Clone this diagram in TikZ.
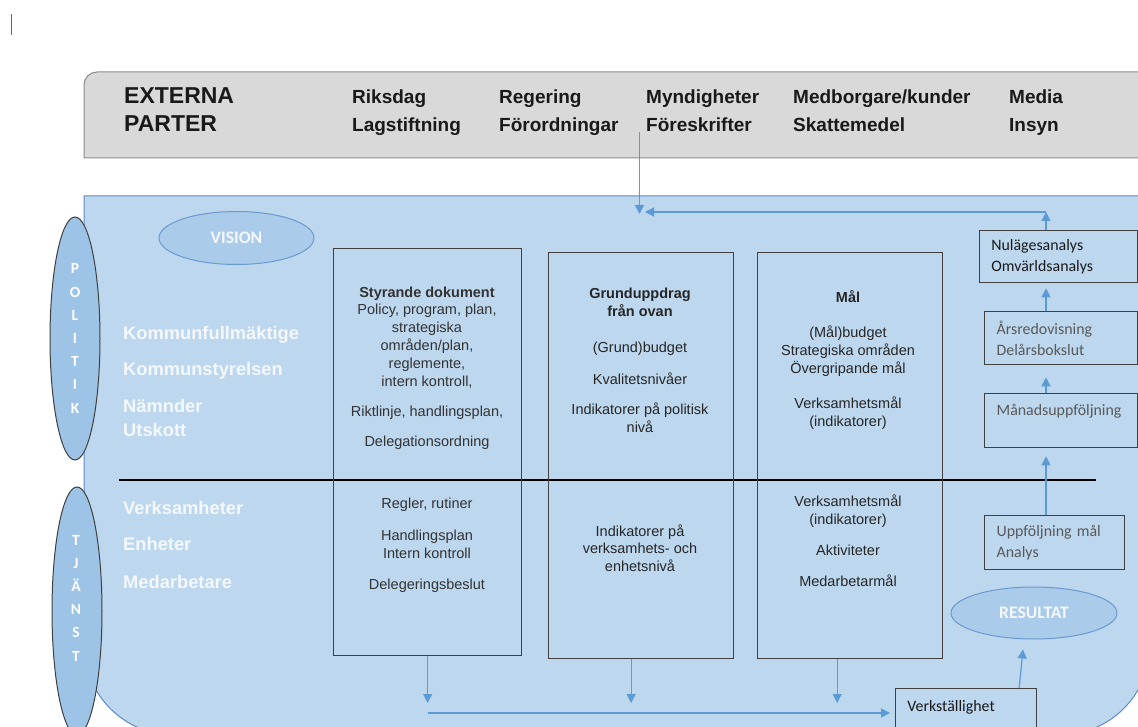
\documentclass[tikz,border=0pt]{standalone}
\usepackage{fontspec}
\setmainfont{Liberation Sans}
\newfontfamily\calibri{Carlito}
\usetikzlibrary{shapes.geometric,arrows.meta}
\definecolor{panelblue}{HTML}{BDD7EE}
\definecolor{paneledge}{HTML}{5B8AC4}
\definecolor{sideblue}{HTML}{9DC3E6}
\definecolor{ovalblue}{HTML}{AACBEA}
\definecolor{ovaledge}{HTML}{6A9AD0}
\definecolor{barfill}{HTML}{D9D9D9}
\definecolor{baredge}{HTML}{8C8C8C}
\definecolor{flowblue}{HTML}{5B9BD5}
\definecolor{boxedge}{HTML}{404040}
\definecolor{boxtext}{HTML}{333333}
\definecolor{greytext}{HTML}{595959}
\definecolor{softwhite}{HTML}{F4F8FC}
\begin{document}
\begin{tikzpicture}[x=1pt, y=-1pt,
    flow/.style={draw=flowblue, line width=1.2pt, -{Triangle[length=9pt,width=9pt]}},
    partbox/.style={draw=boxedge, line width=1.3pt, anchor=north west, inner sep=0pt},
    boxtxt/.style={text=boxtext, align=center, anchor=base, inner sep=0pt, font=\fontsize{14.5}{17.8}\selectfont},
    stepnote/.style={draw=boxedge, line width=1.3pt, anchor=north west, align=left, inner ysep=0pt, font=\calibri\fontsize{15.9}{21.5}\selectfont},
    partner/.style={anchor=base west, align=left, inner sep=0pt, text=black!90, font=\bfseries\fontsize{19}{27.7}\selectfont},
    level/.style={anchor=base west, align=left, inner sep=0pt, text=softwhite, font=\bfseries\fontsize{18.3}{24}\selectfont},
    sideoval/.style={ellipse, draw=black!75, line width=1pt, fill=sideblue, minimum width=50pt, inner sep=0pt, align=center, text=white, font=\calibri\bfseries\fontsize{15.5}{23.2}\selectfont},
    mainoval/.style={ellipse, draw=ovaledge, line width=1pt, fill=ovalblue, inner sep=0pt, text=softwhite, font=\calibri\bfseries\fontsize{17.6}{20}\selectfont}]
    \useasboundingbox (0,0) rectangle (1138,727);
    \draw[black!60, line width=0.8pt] (11,14) -- (11,35);
    \path[fill=panelblue, draw=paneledge, line width=1pt] (84,196) -- (1150,196) -- (1150,645) arc[start angle=0, end angle=-90, radius=90pt] -- (174,735) arc[start angle=270, end angle=180, radius=90pt] -- cycle;
    \path[fill=barfill, draw=baredge, line width=1pt] (84,158) -- (84,85) arc[start angle=180, end angle=90, radius=13pt] -- (1150,72) -- (1150,158) -- cycle;
    \node[partner, font=\bfseries\fontsize{23}{27.7}\selectfont] (ext) at (124,131.7) {EXTERNA\\PARTER};
    \node[partner] (riks) at (352,131.7) {Riksdag\\Lagstiftning};
    \node[partner] (reg) at (499,131.7) {Regering\\Förordningar};
    \node[partner] (myn) at (646,131.7) {Myndigheter\\Föreskrifter};
    \node[partner] (medb) at (793,131.7) {Medborgare/kunder\\Skattemedel};
    \node[partner] (media) at (1009,131.7) {Media\\Insyn};
    \node[sideoval, minimum height=243pt] (pol) at (75,338.5) {P\\O\\L\\I\\T\\I\\K};
    \node[sideoval, minimum height=248pt] (tja) at (77,611) {};
    \node[align=center, inner sep=0pt, text=white, font=\calibri\bfseries\fontsize{15.5}{23.2}\selectfont] (tjatext) at (76,598) {T\\J\\Ä\\N\\S\\T};
    \node[mainoval, minimum width=155pt, minimum height=53pt] (vis) at (236.5,238) {VISION};
    \node[mainoval, minimum width=166pt, minimum height=52pt] (res) at (1034,613) {RESULTAT};
    \node[level] (politik) at (123,436) {Kommunfullmäktige\\[12pt]Kommunstyrelsen\\[13pt]Nämnder\\Utskott};
    \node[level] (tjanst) at (123,588) {Verksamheter\\[12pt]Enheter\\[14pt]Medarbetare};
    \draw[black, line width=2.5pt] (119,480) -- (1096,480);
    \node[partbox, minimum width=188pt, minimum height=407pt] (styr) at (333,248) {};
    \node[partbox, minimum width=185pt, minimum height=406pt] (grund) at (548,252) {};
    \node[partbox, minimum width=185pt, minimum height=406pt] (mal) at (757,252) {};
    \node[boxtxt] (styrtop) at (427,446.7) {\textbf{Styrande dokument}\\Policy, program, plan,\\strategiska\\områden/plan,\\reglemente,\\intern kontroll,\\[13pt]Riktlinje, handlingsplan,\\[12pt]Delegationsordning};
    \node[boxtxt] (styrbot) at (427,589) {Regler, rutiner\\[14pt]Handlingsplan\\Intern kontroll\\[13pt]Delegeringsbeslut};
    \node[boxtxt, text=black!85] (grundtop) at (640,432.7) {\textbf{Grunduppdrag}\\\textbf{från ovan}\\[18.5pt](Grund)budget\\[14pt]Kvalitetsnivåer\\[12.5pt]Indikatorer på politisk\\nivå};
    \node[boxtxt, text=black!85] (grundbot) at (640,571.7) {Indikatorer på\\verksamhets- och\\enhetsnivå};
    \node[boxtxt, text=black!85] (maltop) at (848,426.7) {\textbf{Mål}\\[17pt](Mål)budget\\Strategiska områden\\Övergripande mål\\[18pt]Verksamhetsmål\\(indikatorer)};
    \node[boxtxt, text=black!85] (malbot) at (848,586) {Verksamhetsmål\\(indikatorer)\\[13pt]Aktiviteter\\[13pt]Medarbetarmål};
    \node[stepnote, text width=134.6pt, inner xsep=11.7pt, minimum height=52pt, text=black!90] (nul) at (979,230) {Nulägesanalys\\Omvärldsanalys};
    \node[stepnote, text width=129pt, inner xsep=12pt, minimum height=53pt, text=greytext] (ars) at (984,311) {Årsredovisning\\Delårsbokslut};
    \node[stepnote, text width=129pt, inner xsep=12pt, minimum height=54pt, text=greytext] (manad) at (984,393) {Månadsuppföljning\\\mbox{}};
    \node[stepnote, text width=116pt, inner xsep=12pt, minimum height=54pt, text=greytext] (uppf) at (984,515) {Uppföljning mål\\Analys};
    \node[stepnote, text width=117.6pt, inner xsep=11.7pt, minimum height=57pt, text=black!90] (verk) at (895,688) {Verkställighet\\\mbox{}};
    \coordinate (feed) at (639.5,214);
    \coordinate (spine) at (1046,212);
    \coordinate (back) at (645,212);
    \coordinate (drop) at (0,703);
    \coordinate (rail) at (0,713);
    \draw[flow] (myn.south -| feed) -- (feed);
    \draw[flow] (nul.north -| spine) -- (spine);
    \draw[flow] (spine) -- (back);
    \draw[flow, shorten >=5pt] (ars.north -| spine) -- (nul.south -| spine);
    \draw[flow, shorten >=12pt] (manad.north -| spine) -- (ars.south -| spine);
    \draw[flow, shorten >=8pt] (uppf.north -| spine) -- (manad.south -| spine);
    \draw[flow] (styr.south) -- (styr.south |- drop);
    \draw[flow] ([xshift=-10pt]grund.south) -- ([xshift=-10pt]grund.south |- drop);
    \draw[flow] ([xshift=-13pt]mal.south) -- ([xshift=-13pt]mal.south |- drop);
    \draw[flow, shorten >=5pt] (styr.south |- rail) -- (verk.west |- rail);
    \draw[flow, shorten >=10pt] ([xshift=53pt]verk.north) -- ([xshift=-10pt]res.south);
\end{tikzpicture}
\end{document}
